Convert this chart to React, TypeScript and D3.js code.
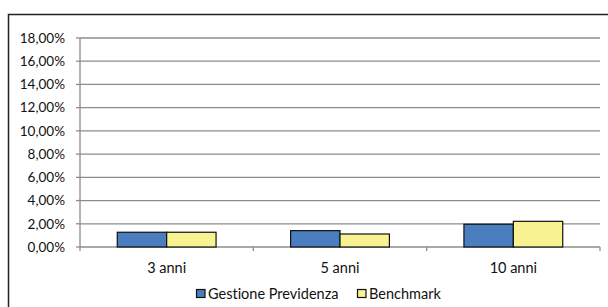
import React, { useEffect } from "react";
import * as d3 from "d3";

const categories = ["3 anni", "5 anni", "10 anni"];
const seriesNames = ["Gestione Previdenza", "Benchmark"];
const gestioneValues = [1.27, 1.41, 1.96];
const benchmarkValues = [1.27, 1.12, 2.21];
const yTicks = [0, 2, 4, 6, 8, 10, 12, 14, 16, 18];
const colors = ["#4A7EBF", "#F8F290"];

const W = 608;
const H = 307;
const plot = { left: 80, right: 600, top: 38, bottom: 247 };
const FONT = "Lato, 'Open Sans', sans-serif";
const textStyle = { fontVariantLigatures: "none" as const };

export default function App() {
  useEffect(() => {
    document.documentElement.style.overflow = "hidden";
    document.body.style.overflow = "hidden";
    document.body.style.margin = "0";
  }, []);
  const x = d3
    .scaleBand<string>()
    .domain(categories)
    .range([plot.left, plot.right])
    .paddingInner(0)
    .paddingOuter(0);
  const y = d3.scaleLinear().domain([0, 18]).range([plot.bottom, plot.top]);
  const groupW = x.bandwidth() * 0.57;
  const barW = groupW / 2;
  const series = [gestioneValues, benchmarkValues];
  const fmt = (v: number) => v.toFixed(2).replace(".", ",") + "%";

  return (
    <svg
      width={W}
      height={H}
      style={{ position: "fixed", left: 0, top: 0, background: "#fff", overflow: "hidden", display: "block" }}
    >
      <path d={`M8.5,${H + 10} V14.5 H${W + 10}`} fill="none" stroke="#222" strokeWidth={1.5} />
      {yTicks.map((t) => (
        <g key={t}>
          {t > 0 && (
            <line x1={plot.left} x2={plot.right} y1={y(t)} y2={y(t)} stroke="#8c8c8c" strokeWidth={1.3} />
          )}
          <line x1={plot.left - 4} x2={plot.left} y1={y(t)} y2={y(t)} stroke="#8c8c8c" strokeWidth={1.3} />
          <text
            x={65}
            y={y(t)}
            dy="0.35em"
            textAnchor="end"
            fontFamily={FONT}
            fontSize={13.5}
            fill="#111"
            style={textStyle}
          >
            {fmt(t)}
          </text>
        </g>
      ))}
      <line x1={plot.left} x2={plot.left} y1={plot.top} y2={plot.bottom} stroke="#8c8c8c" strokeWidth={1.3} />
      <line x1={plot.left} x2={plot.right} y1={plot.bottom} y2={plot.bottom} stroke="#8c8c8c" strokeWidth={1.3} />
      {[...categories.map((c) => x(c) as number), plot.right].map((px, i) => (
        <line key={i} x1={px} x2={px} y1={plot.bottom} y2={plot.bottom + 4} stroke="#8c8c8c" strokeWidth={1.3} />
      ))}
      {categories.map((c, ci) => {
        const cx = (x(c) as number) + x.bandwidth() / 2;
        return (
          <g key={c}>
            {series.map((vals, si) => (
              <rect
                key={si}
                x={cx - groupW / 2 + si * barW}
                y={y(vals[ci])}
                width={barW}
                height={plot.bottom - y(vals[ci])}
                fill={colors[si]}
                stroke="#111"
                strokeWidth={1.2}
              />
            ))}
            <text x={cx} y={268} dy="0.35em" textAnchor="middle" fontFamily={FONT} fontSize={14.5} fill="#111" style={textStyle}>
              {c}
            </text>
          </g>
        );
      })}
      {seriesNames.map((name, i) => {
        const lx = [196, 357][i];
        return (
          <g key={name}>
            <rect x={lx + 0.5} y={289.5} width={8.5} height={8} fill={colors[i]} stroke="#111" strokeWidth={1.2} />
            <text x={lx + 12} y={293.5} dy="0.35em" fontFamily={FONT} fontSize={14.5} fill="#111" style={textStyle}>
              {name}
            </text>
          </g>
        );
      })}
    </svg>
  );
}
